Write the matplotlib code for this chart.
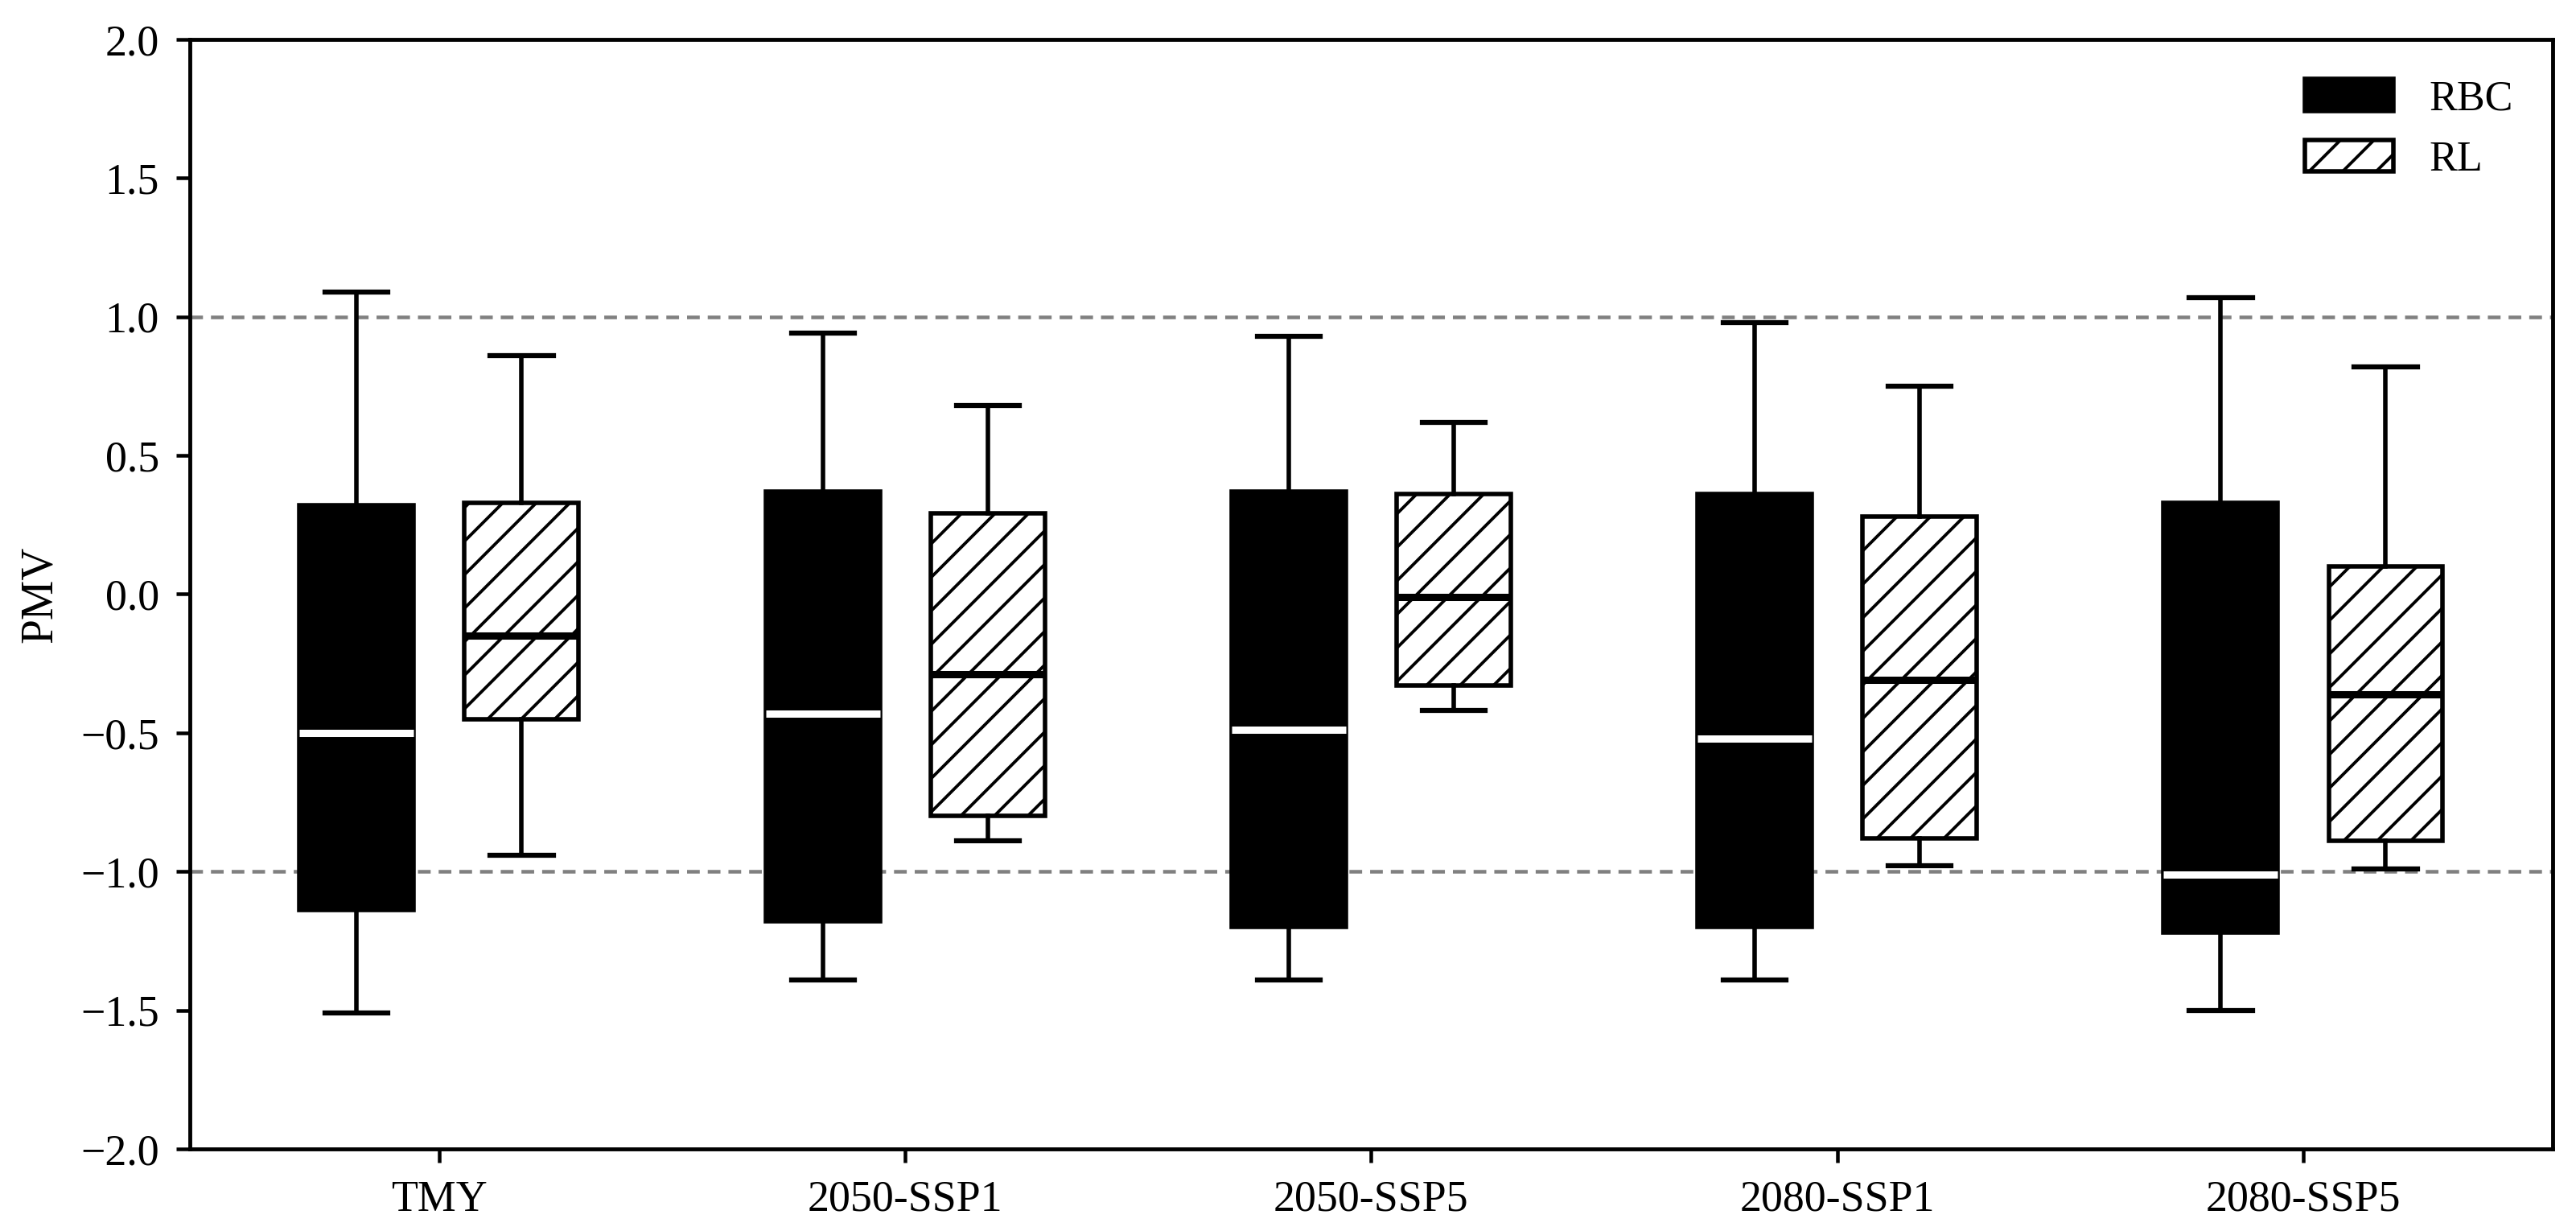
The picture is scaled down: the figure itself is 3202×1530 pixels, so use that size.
import matplotlib
matplotlib.use("Agg")
import matplotlib.pyplot as plt
from matplotlib.patches import Patch

plt.rcParams["font.family"] = ["Liberation Serif", "DejaVu Serif"]
plt.rcParams["hatch.linewidth"] = 1.1

# scenario names on the x axis
scenarios = ["TMY", "2050-SSP1", "2050-SSP5", "2080-SSP1", "2080-SSP5"]

# RBC box statistics (PMV)
rbc_whislo = [-1.51, -1.39, -1.39, -1.39, -1.50]
rbc_q1 = [-1.14, -1.18, -1.20, -1.20, -1.22]
rbc_med = [-0.50, -0.43, -0.49, -0.52, -1.01]
rbc_q3 = [0.32, 0.37, 0.37, 0.36, 0.33]
rbc_whishi = [1.09, 0.94, 0.93, 0.98, 1.07]

# RL box statistics (PMV)
rl_whislo = [-0.94, -0.89, -0.42, -0.98, -0.99]
rl_q1 = [-0.45, -0.80, -0.33, -0.88, -0.89]
rl_med = [-0.15, -0.29, -0.01, -0.31, -0.36]
rl_q3 = [0.33, 0.29, 0.36, 0.28, 0.10]
rl_whishi = [0.86, 0.68, 0.62, 0.75, 0.82]

comfort_limits = [1.0, -1.0]


def make_stats(lo, q1, med, q3, hi):
    return [dict(whislo=a, q1=b, med=c, q3=d, whishi=e, fliers=[])
            for a, b, c, d, e in zip(lo, q1, med, q3, hi)]


fig = plt.figure(figsize=(12.808, 6.12), dpi=250)
ax = fig.add_axes([0.0737, 0.0667, 0.9172, 0.9013])

pos = list(range(len(scenarios)))
off = 0.177
width = 0.245

for y in comfort_limits:
    ax.axhline(y, color="#808080", lw=1.3, ls=(0, (3.5, 2.2)), zorder=1)

common = dict(widths=width, capwidths=0.135, showfliers=False, patch_artist=True,
              whiskerprops=dict(color="black", lw=1.6),
              capprops=dict(color="black", lw=1.8))

ax.bxp(make_stats(rbc_whislo, rbc_q1, rbc_med, rbc_q3, rbc_whishi),
       positions=[p - off for p in pos],
       boxprops=dict(facecolor="black", edgecolor="black", lw=1.6),
       medianprops=dict(color="white", lw=2.6),
       **common)

ax.bxp(make_stats(rl_whislo, rl_q1, rl_med, rl_q3, rl_whishi),
       positions=[p + off for p in pos],
       boxprops=dict(facecolor="white", edgecolor="black", lw=1.6, hatch="//"),
       medianprops=dict(color="black", lw=2.6),
       **common)

ax.set_xlim(-0.535, 4.535)
ax.set_ylim(-2.0, 2.0)
ax.set_xticks(pos)
ax.set_xticklabels(scenarios, fontsize=15.5)
ax.set_yticks([-2.0, -1.5, -1.0, -0.5, 0.0, 0.5, 1.0, 1.5, 2.0])
ax.set_yticklabels([f"{v:.1f}".replace("-", "\u2212") for v in ax.get_yticks()], fontsize=15.5)
ax.tick_params(axis="x", length=5, width=1.3, pad=6)
ax.tick_params(axis="y", length=5, width=1.3, pad=6)
ax.set_ylabel("PMV", fontsize=16, labelpad=7)
for s in ax.spines.values():
    s.set_linewidth(1.4)

handles = [Patch(facecolor="black", edgecolor="black", lw=1.6, label="RBC"),
           Patch(facecolor="white", edgecolor="black", lw=1.6, hatch="//", label="RL")]
ax.legend(handles=handles, loc="upper right", frameon=False, fontsize=15,
          handlelength=2.1, handleheight=0.8, handletextpad=0.85,
          labelspacing=0.5, borderaxespad=0.55)

fig.savefig("out.png", dpi=250)
